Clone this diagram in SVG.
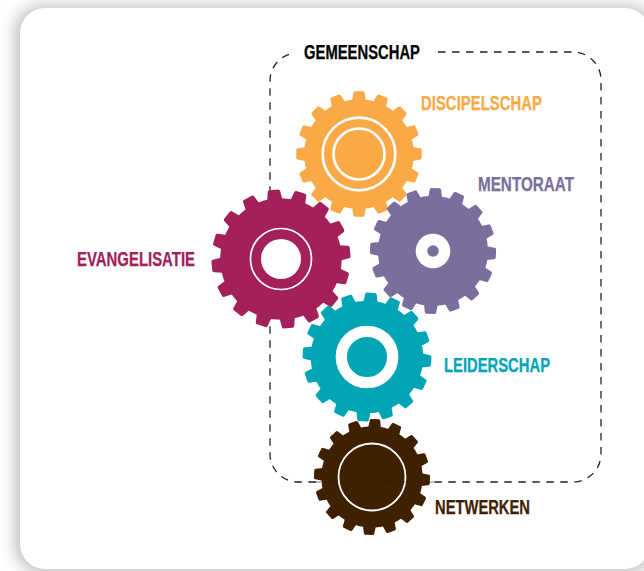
<svg xmlns="http://www.w3.org/2000/svg" width="644" height="571" viewBox="0 0 644 571">
<style>
.ring{fill:none;stroke:#fff}
.hole{fill:#fff}
text{font-family:"Liberation Sans",Arial,sans-serif;font-weight:700;font-size:19.5px;stroke-width:.25;paint-order:stroke}
</style>
<defs>
<filter id="sh" x="-10%" y="-10%" width="120%" height="120%"><feGaussianBlur stdDeviation="8"/></filter>
<path id="t" d="M-11 -85 L-9 -97.5 Q-8.6 -100 -6.4 -100 H6.4 Q8.6 -100 9 -97.5 L11 -85Z"/>
<g id="gear">
<circle r="87.5"/>
<use href="#t"/><use href="#t" transform="rotate(22.5)"/><use href="#t" transform="rotate(45)"/><use href="#t" transform="rotate(67.5)"/>
<use href="#t" transform="rotate(90)"/><use href="#t" transform="rotate(112.5)"/><use href="#t" transform="rotate(135)"/><use href="#t" transform="rotate(157.5)"/>
<use href="#t" transform="rotate(180)"/><use href="#t" transform="rotate(202.5)"/><use href="#t" transform="rotate(225)"/><use href="#t" transform="rotate(247.5)"/>
<use href="#t" transform="rotate(270)"/><use href="#t" transform="rotate(292.5)"/><use href="#t" transform="rotate(315)"/><use href="#t" transform="rotate(337.5)"/>
</g>
</defs>
<rect width="644" height="571" fill="#fff"/>
<rect id="shadow" x="15" y="6" width="640" height="566" rx="26" fill="#bcbcbc" filter="url(#sh)"/>
<rect id="card" x="20" y="8" width="630" height="561" rx="25" fill="#fff"/>
<g id="connectors">
<path d="M438 52H573A28 28 0 0 1 601 80V454A28 28 0 0 1 573 482H298A28 28 0 0 1 270 454V80A28 28 0 0 1 290 54" fill="none" stroke="#222" stroke-width="1.3" stroke-dasharray="7.5 6.5"/>
</g>
<g id="orange" transform="translate(359 154)">
<use href="#gear" fill="#F9A945" transform="scale(.627)"/>
<circle class="ring" r="36.3" stroke-width="2.7"/><circle class="ring" r="25.5" stroke-width="2.7"/>
<text x="62" y="-44.5" fill="#F9A945" stroke="#F9A945" textLength="121" lengthAdjust="spacingAndGlyphs">DISCIPELSCHAP</text>
</g>
<g id="magenta" transform="translate(281 259)">
<use href="#gear" fill="#A3205A" transform="rotate(-6) scale(.695)"/>
<circle class="hole" r="20"/><circle class="ring" r="30.5" stroke-width="1.7"/>
<text x="-204" y="6.5" fill="#A3205A" stroke="#A3205A" textLength="118" lengthAdjust="spacingAndGlyphs">EVANGELISATIE</text>
</g>
<g id="purple" transform="translate(433 251)">
<use href="#gear" fill="#7A6E9C" transform="rotate(2.3) scale(.63)"/>
<circle class="hole" r="17.3"/><circle r="5.8" fill="#7A6E9C"/>
<text x="45" y="-60.5" fill="#7A6E9C" stroke="#7A6E9C" textLength="96" lengthAdjust="spacingAndGlyphs">MENTORAAT</text>
</g>
<g id="teal" transform="translate(367 357)">
<use href="#gear" fill="#00A5B5" transform="rotate(3.6) scale(.643)"/>
<circle class="ring" r="25.7" stroke-width="11.3"/>
<text x="77" y="14.5" fill="#00A5B5" stroke="#00A5B5" textLength="106" lengthAdjust="spacingAndGlyphs">LEIDERSCHAP</text>
</g>
<g id="brown" transform="translate(372 477)">
<use href="#gear" fill="#3F2000" transform="rotate(3) scale(.58)"/>
<circle class="ring" r="33.5" stroke-width="1.8"/>
<text x="63" y="36.5" fill="#3F2000" stroke="#3F2000" textLength="95" lengthAdjust="spacingAndGlyphs">NETWERKEN</text>
</g>
<path d="M314 482H434" fill="none" stroke="#1a1a1a" stroke-width="1.2" stroke-dasharray="7.5 6.5" opacity=".6"/>
<g id="title"><text x="304" y="59" fill="#000" stroke="#000" textLength="116" lengthAdjust="spacingAndGlyphs">GEMEENSCHAP</text></g>
</svg>
